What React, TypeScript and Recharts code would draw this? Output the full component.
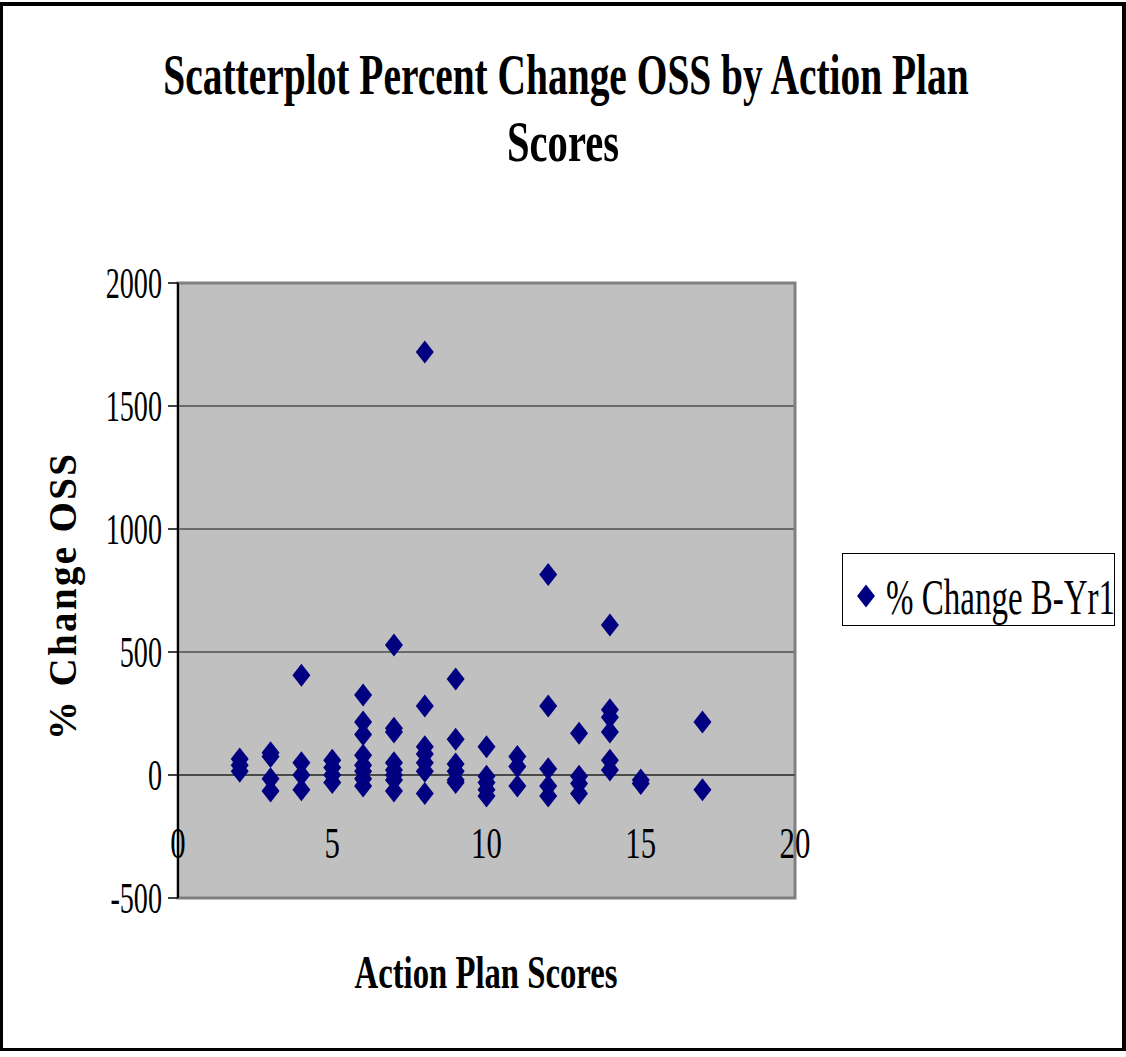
import {
  ScatterChart,
  Scatter,
  XAxis,
  YAxis,
  CartesianGrid,
  ReferenceArea,
  ReferenceLine,
} from "recharts";

// action plan score -> % change values
const score2 = [65, 40, 15];
const score3 = [90, 75, -15, -65];
const score4 = [405, 50, 0, -60];
const score5 = [60, 30, 0, -30];
const score6 = [325, 215, 165, 80, 40, 15, -15, -45];
const score7 = [528, 190, 175, 50, 20, 0, -20, -65];
const score8 = [1720, 280, 115, 85, 50, 15, -75];
const score9 = [390, 145, 45, 15, -20, -30];
const score10 = [115, -5, -30, -60, -85];
const score11 = [75, 35, -45];
const score12 = [815, 280, 25, -45, -85];
const score13 = [170, -5, -35, -75];
const score14 = [610, 265, 235, 175, 60, 20];
const score15 = [-20, -35];
const score17 = [215, -60];

const columns: [number, number[]][] = [
  [2, score2],
  [3, score3],
  [4, score4],
  [5, score5],
  [6, score6],
  [7, score7],
  [8, score8],
  [9, score9],
  [10, score10],
  [11, score11],
  [12, score12],
  [13, score13],
  [14, score14],
  [15, score15],
  [17, score17],
];

const xTicks = [0, 5, 10, 15, 20];
const yTicks = [-500, 0, 500, 1000, 1500, 2000];
const seriesName = "% Change B-Yr1";

const data = columns.flatMap(([score, vals]) =>
  vals.map((v) => ({ score, pct: v }))
);

const FONT = "'Liberation Serif', 'Times New Roman', serif";
const NAVY = "#000080";

const Diamond = (props: any) => {
  const { cx, cy } = props;
  if (cx == null || cy == null) return null;
  return (
    <path
      d={`M${cx},${cy - 11.5} L${cx + 9},${cy} L${cx},${cy + 11.5} L${cx - 9},${cy} Z`}
      fill={NAVY}
    />
  );
};

const XTick = (props: any) => {
  const { x, y, payload } = props;
  return (
    <g transform={`translate(${x},${y - 40}) scale(0.7,1)`}>
      <text x={0} y={0} textAnchor="middle" fontFamily={FONT} fontSize={44} fill="#000">
        {payload.value}
      </text>
    </g>
  );
};

const YTick = (props: any) => {
  const { x, y, payload } = props;
  return (
    <g transform={`translate(${x - 4},${y + 15}) scale(0.64,1)`}>
      <text x={0} y={0} textAnchor="end" fontFamily={FONT} fontSize={44} fill="#000">
        {payload.value}
      </text>
    </g>
  );
};

const LegendBox = () => (
  <div
    style={{
      position: "absolute",
      left: 842,
      top: 553,
      width: 273,
      height: 73,
      border: "1px solid #000",
      background: "#fff",
      boxSizing: "border-box",
    }}
  >
    <svg width={271} height={71} style={{ display: "block" }}>
      <path d="M23,30.5 L32,42 L23,53.5 L14,42 Z" fill={NAVY} />
      <g transform="translate(43,60) scale(0.66,1)">
        <text x={0} y={0} fontFamily={FONT} fontSize={50} fill="#000">
          {seriesName}
        </text>
      </g>
    </svg>
  </div>
);

export default function App() {
  return (
    <div
      style={{
        position: "absolute",
        left: 0,
        top: 0,
        width: 1126,
        height: 1057,
        background: "#fff",
      }}
    >
      <div
        style={{
          position: "absolute",
          left: 0,
          top: 2,
          width: 1126,
          height: 1049,
          borderTop: "4px solid #000",
          borderLeft: "3px solid #000",
          borderRight: "4px solid #000",
          borderBottom: "3px solid #000",
          boxSizing: "border-box",
        }}
      />

      <svg
        width={1126}
        height={1057}
        style={{ position: "absolute", left: 0, top: 0, pointerEvents: "none" }}
      >
        <g transform="translate(566,94) scale(0.68,1)">
          <text
            x={0}
            y={0}
            textAnchor="middle"
            fontFamily={FONT}
            fontWeight="bold"
            fontSize={58}
          >
            Scatterplot Percent Change OSS by Action Plan
          </text>
        </g>
        <g transform="translate(563,161) scale(0.7,1)">
          <text
            x={0}
            y={0}
            textAnchor="middle"
            fontFamily={FONT}
            fontWeight="bold"
            fontSize={58}
          >
            Scores
          </text>
        </g>
        <text
          x={486}
          y={988}
          textAnchor="middle"
          fontFamily={FONT}
          fontWeight="bold"
          fontSize={46}
          textLength={263}
          lengthAdjust="spacingAndGlyphs"
        >
          Action Plan Scores
        </text>
        <text
          transform="translate(76,597) rotate(-90)"
          x={0}
          y={0}
          textAnchor="middle"
          fontFamily={FONT}
          fontWeight="bold"
          fontSize={39}
          textLength={286}
          lengthAdjust="spacing"
        >
          % Change OSS
        </text>
      </svg>

      <div style={{ position: "absolute", left: 0, top: 0 }}>
        <ScatterChart
          width={1126}
          height={1057}
          margin={{ top: 283, right: 331, bottom: 129, left: 118 }}
        >
          <CartesianGrid
            vertical={false}
            stroke="#4d4d4d"
            strokeWidth={1.5}
            fill="#C0C0C0"
            fillOpacity={1}
          />
          <ReferenceArea
            x1={0}
            x2={20}
            y1={-500}
            y2={2000}
            fill="none"
            stroke="#808080"
            strokeWidth={3}
            ifOverflow="visible"
          />
          <ReferenceLine y={0} stroke="#404040" strokeWidth={1.5} />
          <XAxis
            type="number"
            dataKey="score"
            domain={[0, 20]}
            ticks={xTicks}
            axisLine={false}
            tickLine={false}
            tickSize={0}
            tickMargin={0}
            height={30}
            tick={<XTick />}
            interval={0}
          />
          <YAxis
            type="number"
            dataKey="pct"
            domain={[-500, 2000]}
            ticks={yTicks}
            width={60}
            axisLine={{ stroke: "#000", strokeWidth: 2 }}
            tickLine={{ stroke: "#000", strokeWidth: 1.5 }}
            tickSize={10}
            tick={<YTick />}
            interval={0}
          />
          <Scatter
            name={seriesName}
            data={data}
            fill={NAVY}
            shape={<Diamond />}
            isAnimationActive={false}
          />
        </ScatterChart>
      </div>

      <LegendBox />
    </div>
  );
}
